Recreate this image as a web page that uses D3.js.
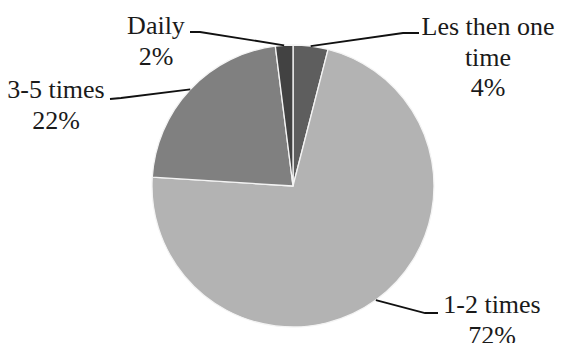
<!DOCTYPE html>
<html>
<head>
<meta charset="utf-8">
<script src="https://cdn.jsdelivr.net/npm/d3@7"></script>
<style>
  body { margin: 0; background: #fff; }
  svg { display: block; }
</style>
</head>
<body>
<div id="pie"></div>
<script>
// Slice data, clockwise from 12 o'clock
var categories = ["Les then one time", "1-2 times", "3-5 times", "Daily"];
var values = [4, 72, 22, 2];
var labelLines = [["Les then one", "time"], ["1-2 times"], ["3-5 times"], ["Daily"]];
var colors = ["#5e5e5e", "#b3b3b3", "#808080", "#424242"];

var width = 561, height = 343;
var cx = 293, cy = 186, radius = 141;

// label anchors (center x, first baseline) and leader elbow points
var layout = [
  {x: 488, y: 35, elbow: [403, 33], end: [419, 33]},
  {x: 492, y: 313, elbow: [425, 313], end: [438, 313]},
  {x: 56, y: 98, elbow: [121, 98], end: [110, 99]},
  {x: 156, y: 34, elbow: [200, 32], end: [190, 32]}
];

var svg = d3.select("#pie")
  .append("svg")
    .attr("width", width)
    .attr("height", height);

var data = categories.map(function(c, i) {
  return {name: c, value: values[i], lines: labelLines[i], color: colors[i], pos: layout[i]};
});

var pie = d3.pie()
  .sort(null)
  .value(function(d) { return d.value; });

var arc = d3.arc()
  .innerRadius(0)
  .outerRadius(radius);

var arcs = pie(data);

var g = svg.append("g")
  .attr("transform", "translate(" + cx + "," + cy + ")");

g.selectAll("path")
  .data(arcs)
  .join("path")
    .attr("d", arc)
    .attr("fill", function(d) { return d.data.color; })
    .attr("stroke", "#f4f4f4")
    .attr("stroke-width", 1.3)
    .attr("stroke-linejoin", "round");

// leader lines from the slice edge at mid angle
function edgePoint(d) {
  var a = (d.startAngle + d.endAngle) / 2;
  return [cx + radius * Math.sin(a), cy - radius * Math.cos(a)];
}

svg.append("g")
  .selectAll("polyline")
  .data(arcs)
  .join("polyline")
    .attr("points", function(d) {
      var p = edgePoint(d);
      return [p, d.data.pos.elbow, d.data.pos.end].map(function(q) { return q.join(","); }).join(" ");
    })
    .attr("fill", "none")
    .attr("stroke", "#111")
    .attr("stroke-width", 1.8);

// labels
var labels = svg.append("g")
  .selectAll("text")
  .data(arcs)
  .join("text")
    .style("font-family", "'Liberation Serif'")
    .style("font-size", "26px")
    .attr("fill", "#1a1a1a")
    .attr("text-anchor", "middle")
    .attr("x", function(d) { return d.data.pos.x; })
    .attr("y", function(d) { return d.data.pos.y; });

labels.each(function(d) {
  var t = d3.select(this);
  var lines = d.data.lines.concat([d.data.value + "%"]);
  lines.forEach(function(l, i) {
    t.append("tspan")
      .attr("x", d.data.pos.x)
      .attr("dy", i === 0 ? 0 : 30.5)
      .text(l);
  });
});
</script>
</body>
</html>
